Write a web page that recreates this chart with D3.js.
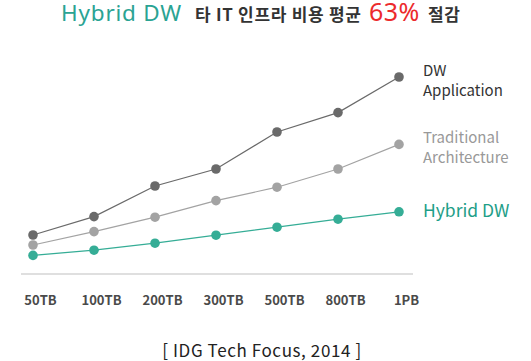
<!DOCTYPE html>
<html>
<head>
<meta charset="utf-8">
<script src="https://cdn.jsdelivr.net/npm/d3@7"></script>
<style>
  body { margin: 0; background: #fff; }
  svg { display: block; font-family: "Noto Sans CJK KR", "Noto Sans", sans-serif; }
</style>
</head>
<body>
<div id="chart"></div>
<script>
const categories = ['50TB', '100TB', '200TB', '300TB', '500TB', '800TB', '1PB'];
const dwApplication = [19.5, 28.7, 44, 52.5, 71, 80.7, 98.5];
const traditional = [14.5, 21.2, 28.4, 36.7, 43.4, 52.5, 64.8];
const hybridDW = [9.3, 11.9, 15.4, 19.4, 23.4, 27.4, 31.1];

const series = [
    { name: ['DW', 'Application'], values: dwApplication, color: '#6a6a6a', text: '#333', size: 15 },
    { name: ['Traditional', 'Architecture'], values: traditional, color: '#a3a3a3', text: '#999', size: 15 },
    { name: ['Hybrid DW'], values: hybridDW, color: '#35ad96', text: '#1e9e88', size: 17.5 }
];

const width = 531, height = 361;
const svg = d3.select('#chart').append('svg')
    .attr('width', width)
    .attr('height', height);

const x = d3.scalePoint().domain(categories).range([33, 399]);
const y = d3.scaleLinear().domain([0, 100]).range([274, 74]);

// Title
const title = svg.append('text').attr('y', 20.5);
title.append('tspan').text('Hybrid DW').attr('x', 61)
    .style('font-size', '22.5px').style('fill', '#2aa393').style('font-family', '"Noto Sans", sans-serif')
    .style('letter-spacing', '0.8px');
title.append('tspan').text('타 IT 인프라 비용 평균').attr('x', 195)
    .style('font-size', '17px').style('fill', '#333').style('font-weight', 'bold')
    .style('letter-spacing', '0.7px');
title.append('tspan').text('63%').attr('x', 369)
    .style('font-size', '25px').style('fill', '#ec2a2c').style('font-family', '"Noto Sans", sans-serif')
    .style('letter-spacing', '0.5px');
title.append('tspan').text('절감').attr('x', 428)
    .style('font-size', '17px').style('fill', '#333').style('font-weight', 'bold')
    .style('letter-spacing', '0.7px');

// Baseline
svg.append('line')
    .attr('x1', 21).attr('x2', 413)
    .attr('y1', 274).attr('y2', 274)
    .style('stroke', '#d4d4d4')
    .style('stroke-width', 1.5);

// X axis labels
const xAxis = d3.axisBottom(x).tickSize(0).tickPadding(0);
const axisG = svg.append('g')
    .attr('transform', 'translate(7, 296)')
    .call(xAxis);
axisG.select('.domain').remove();
axisG.selectAll('text')
    .style('font-size', '13px')
    .style('font-family', '"Noto Sans CJK KR", sans-serif')
    .style('font-weight', 'bold')
    .style('fill', '#4a4a4a');

const line = d3.line()
    .x((d, i) => x(categories[i]))
    .y(d => y(d));

series.forEach(s => {
    svg.append('path')
        .datum(s.values)
        .attr('d', line)
        .style('fill', 'none')
        .style('stroke', s.color)
        .style('stroke-width', 1.2);

    svg.selectAll(null)
        .data(s.values)
        .enter()
        .append('circle')
        .attr('cx', (d, i) => x(categories[i]))
        .attr('cy', d => y(d))
        .attr('r', 4.8)
        .style('fill', s.color);

    const last = s.values[s.values.length - 1];
    const label = svg.append('text')
        .attr('x', 423)
        .attr('y', y(last) + (s.name.length > 1 ? -1 : 5))
        .style('font-size', s.size + 'px')
        .style('fill', s.text);
    s.name.forEach((n, i) => {
        label.append('tspan')
            .attr('x', 423)
            .attr('dy', i === 0 ? 0 : 20)
            .text(n);
    });
});

// Source
svg.append('text')
    .attr('x', 262)
    .attr('y', 357)
    .attr('text-anchor', 'middle')
    .style('font-size', '17px')
    .style('letter-spacing', '0.6px')
    .style('fill', '#222')
    .text('[ IDG Tech Focus, 2014 ]');
</script>
</body>
</html>
